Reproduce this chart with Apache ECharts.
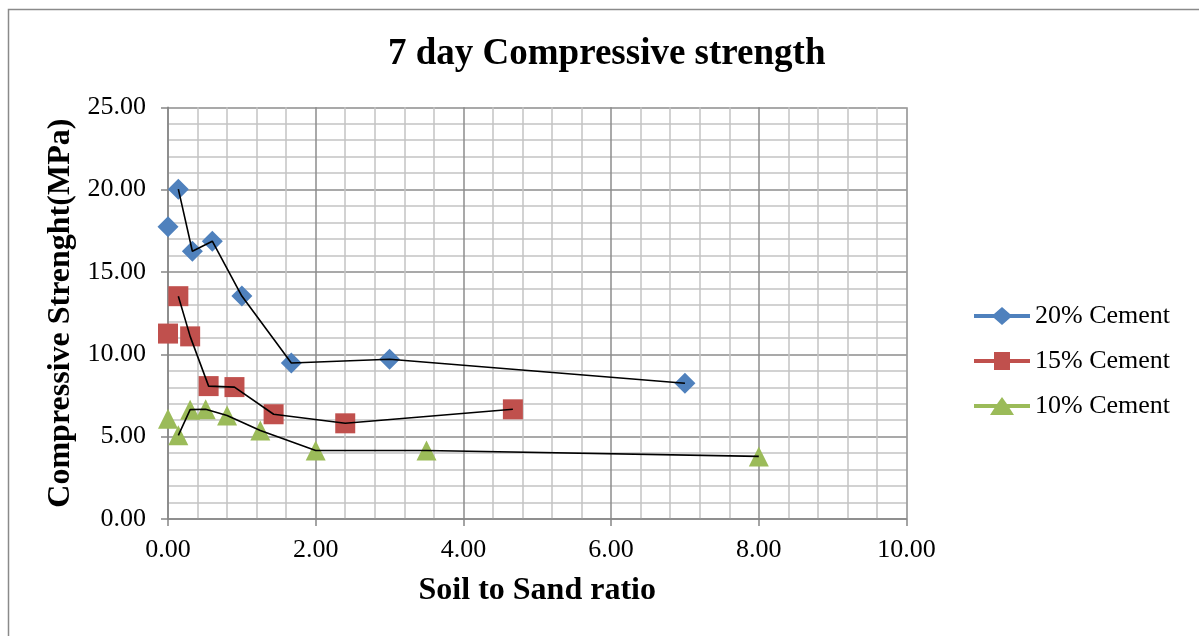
<!DOCTYPE html>
<html>
<head>
<meta charset="utf-8">
<script src="https://cdn.jsdelivr.net/npm/echarts@6/dist/echarts.min.js"></script>
<style>html,body{margin:0;padding:0;background:#fff;}#c{width:1199px;height:636px;}</style>
</head>
<body>
<div id="c"></div>
<script>
// ---- data ----
const titleText = '7 day Compressive strength';
const xAxisTitle = 'Soil to Sand ratio';
const yAxisTitle = 'Compressive Strenght(MPa)';
const seriesNames = ['20% Cement', '15% Cement', '10% Cement'];

const x20 = [0.00, 0.14, 0.33, 0.60, 1.00, 1.67, 3.00, 7.00];
const y20 = [17.74, 20.03, 16.26, 16.87, 13.54, 9.47, 9.70, 8.24];

const x15 = [0.00, 0.14, 0.30, 0.55, 0.90, 1.43, 2.40, 4.67];
const y15 = [11.26, 13.53, 11.09, 8.07, 8.01, 6.36, 5.81, 6.66];

const x10 = [0.00, 0.14, 0.30, 0.51, 0.80, 1.25, 2.00, 3.50, 8.00];
const y10 = [6.09, 5.08, 6.64, 6.66, 6.29, 5.38, 4.16, 4.16, 3.80];

// ---- build ----
const FONT = 'Liberation Serif';
const colors = ['#4F81BD', '#C0504D', '#9BBB59'];
const symbols = ['diamond', 'rect', 'triangle'];
const legendIcons = [
  'path://M0 7 L20 7 L28 0 L36 7 L56 7 L56 11 L36 11 L28 18 L20 11 L0 11 Z',
  'path://M0 7 L20 7 L20 0 L36 0 L36 7 L56 7 L56 11 L36 11 L36 18 L20 18 L20 11 L0 11 Z',
  'path://M0 7 L23 7 L28 0 L33 7 L56 7 L56 11 L35.5 11 L40 18 L16 18 L20.5 11 L0 11 Z'
];
const xs = [x20, x15, x10];
const ys = [y20, y15, y10];

function pairs(xa, ya) { return xa.map((v, i) => [v, ya[i]]); }

const series = [];
for (let k = 0; k < 3; k++) {
  series.push({
    name: seriesNames[k],
    type: 'scatter',
    symbol: symbols[k],
    symbolSize: k === 0 ? 21 : 20,
    itemStyle: { color: colors[k], opacity: 1 },
    data: pairs(xs[k], ys[k]),
    z: 3
  });
}
for (let k = 0; k < 3; k++) {
  series.push({
    name: seriesNames[k] + ' trend',
    type: 'line',
    showSymbol: false,
    symbol: 'none',
    lineStyle: { color: '#000', width: 1.6 },
    data: pairs(xs[k], ys[k]).slice(1),
    z: 4,
    silent: true
  });
}

const chart = echarts.init(document.getElementById('c'), null, { renderer: 'canvas' });
chart.setOption({
  animation: false,
  backgroundColor: '#fff',
  title: {
    text: titleText,
    left: 383,
    top: 31,
    textStyle: { fontFamily: FONT, fontSize: 37, fontWeight: 'bold', color: '#000' }
  },
  graphic: [{
    type: 'rect',
    shape: { x: 8.5, y: 9.5, width: 1300, height: 700 },
    style: { fill: 'none', stroke: '#8a8a8a', lineWidth: 1.5 },
    silent: true, z: -1
  }],
  legend: {
    orient: 'vertical',
    left: 969,
    top: 298,
    itemWidth: 56,
    itemHeight: 18,
    itemGap: 19,
    data: seriesNames.map((n, i) => ({ name: n, icon: legendIcons[i] })),
    textStyle: { fontFamily: FONT, fontSize: 26, color: '#000', lineHeight: 26 }
  },
  grid: { left: 168, right: 292.5, top: 107.3, bottom: 117, containLabel: false },
  xAxis: {
    type: 'value', min: 0, max: 10, interval: 2,
    name: xAxisTitle, nameLocation: 'middle', nameGap: 56,
    nameTextStyle: { fontFamily: FONT, fontSize: 32, fontWeight: 'bold', color: '#000' },
    axisLine: { show: true, lineStyle: { color: '#868686', width: 1.5 } },
    axisTick: { show: true, length: 7, lineStyle: { color: '#868686', width: 1.5 } },
    axisLabel: { fontFamily: FONT, fontSize: 26, color: '#000', margin: 18, formatter: v => v.toFixed(2) },
    splitLine: { show: true, lineStyle: { color: '#8c8c8c', width: 1.5 } },
    minorTick: { show: false, splitNumber: 5 },
    minorSplitLine: { show: true, lineStyle: { color: '#c4c4c4', width: 1.5 } }
  },
  yAxis: {
    type: 'value', min: 0, max: 25, interval: 5,
    name: yAxisTitle, nameLocation: 'middle', nameGap: 87,
    nameTextStyle: { fontFamily: FONT, fontSize: 32, fontWeight: 'bold', color: '#000' },
    axisLine: { show: true, lineStyle: { color: '#868686', width: 1.5 } },
    axisTick: { show: true, length: 7, lineStyle: { color: '#868686', width: 1.5 } },
    axisLabel: { fontFamily: FONT, fontSize: 26, color: '#000', margin: 22, formatter: v => v.toFixed(2) },
    splitLine: { show: true, lineStyle: { color: '#8c8c8c', width: 1.5 } },
    minorTick: { show: false, splitNumber: 5 },
    minorSplitLine: { show: true, lineStyle: { color: '#c4c4c4', width: 1.5 } }
  },
  series: series
});
</script>
</body>
</html>
